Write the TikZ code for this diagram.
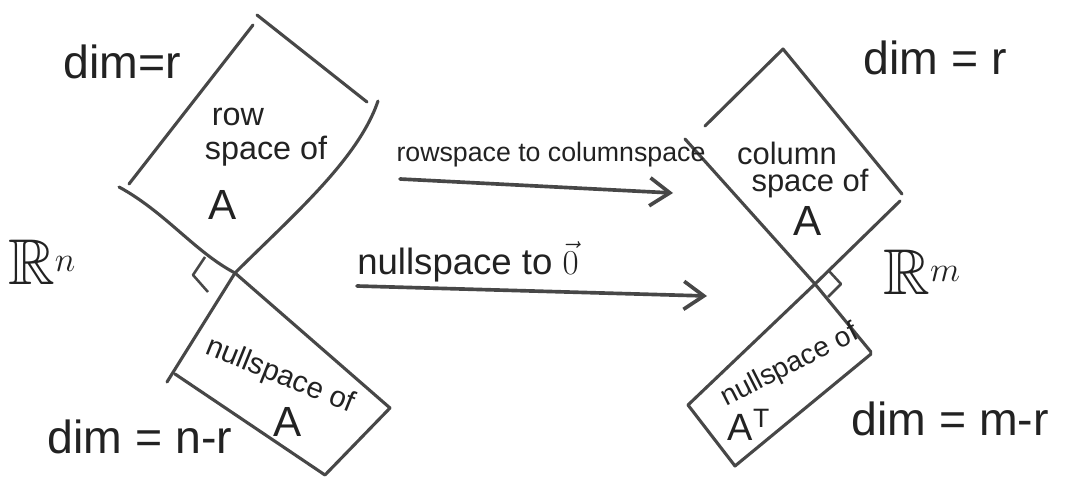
\documentclass[tikz,border=0pt]{standalone}
\usepackage{fontspec}
\setmainfont{Liberation Sans}
\usepackage{amssymb}
\usetikzlibrary{arrows.meta}
\definecolor{pengray}{HTML}{474747}
\definecolor{inkblack}{HTML}{222222}

\begin{document}
\begin{tikzpicture}[
  x=0.025cm, y=-0.025cm,
  side/.style={draw=pengray, line width=2.2pt, line cap=round, line join=round},
  rightangle/.style={draw=pengray, line width=1.8pt, line join=round},
  maparrow/.style={draw=pengray, line width=2.6pt, line cap=round,
                   -{Straight Barb[length=5mm,width=7mm]}},
  dimlabel/.style={text=inkblack, inner sep=0pt, font=\fontsize{33}{38}\selectfont},
  spacelabel/.style={text=inkblack, inner sep=0pt, font=\fontsize{23}{27}\selectfont},
  biglabel/.style={text=inkblack, inner sep=0pt, font=\fontsize{30}{34}\selectfont},
  maplabel/.style={text=inkblack, inner sep=0pt}
]
\useasboundingbox[fill=white] (0,0) rectangle (1066,479);

% R^n side: row space and nullspace of A
\coordinate (rowO) at (235,273);
\draw[side] (129,184) -- (253,25);
\draw[side] (257,15) -- (367,102);
\draw[side] (378,101) .. controls (358,160) and (290,218) .. (rowO) -- (167,382);
\draw[side] (119,187) .. controls (165,212) and (195,252) .. (rowO) -- (390,408);
\draw[side] (175,374) -- (325,475) -- (390,408);
\draw[rightangle] (205,257) -- (193,275) -- (208,292);

% R^m side: column space and left nullspace
\coordinate (colO) at (815,284);
\draw[side] (705,126) -- (783,49) -- (902,194);
\draw[side] (900,201) -- (colO) -- (688,405);
\draw[side] (685,139) -- (colO) -- (871,352);
\draw[side] (688,405) -- (735,466) -- (871,354);
\draw[rightangle] (829,271) -- (841,284) -- (828,297);

% labels
\node[dimlabel] (dimrow) at (122,62) {dim=r};
\node[spacelabel] (rowa) at (238,117) {row};
\node[spacelabel] (rowb) at (266,151) {space of};
\node[biglabel] (rowc) at (223,205) {A};
\node[text=inkblack, inner sep=0pt, font=\fontsize{46}{50}\selectfont] (rn) at (42,262) {$\mathbb{R}^{n}$};
\node[spacelabel, font=\fontsize{21}{25}\selectfont, rotate=-22] (nulla) at (280,376) {nullspace of};
\node[biglabel] (nullb) at (288,422) {A};
\node[dimlabel] (dimnull) at (140,437) {dim = n-r};

\node[dimlabel] (dimcol) at (935,58) {dim = r};
\node[spacelabel, font=\fontsize{22}{26}\selectfont] (cola) at (787,153) {column};
\node[spacelabel, font=\fontsize{22}{26}\selectfont] (colb) at (810,184) {space of};
\node[biglabel] (colc) at (808,221) {A};
\node[text=inkblack, inner sep=0pt, font=\fontsize{46}{50}\selectfont] (rm) at (922,272) {$\mathbb{R}^{m}$};
\node[spacelabel, font=\fontsize{20}{24}\selectfont, rotate=27] (lnulla) at (790,366) {nullspace of};
\node[biglabel, font=\fontsize{27}{30}\selectfont] (lnullb) at (749,425) {A\textsuperscript{T}};
\node[dimlabel] (dimlnull) at (950,419) {dim = m-r};

% the two maps
\node[maplabel, font=\fontsize{19}{23}\selectfont] (maprow) at (551,155) {rowspace to columnspace};
\node[maplabel, font=\fontsize{26}{30}\selectfont] (mapnull) at (468,262) {nullspace to $\vec{0}$};
\coordinate (rowfrom) at (400,179);
\coordinate (rowto) at (673,193);
\coordinate (nullfrom) at (357,286);
\coordinate (nullto) at (707,296);
\draw[maparrow] (rowfrom) -- (rowto);
\draw[maparrow] (nullfrom) -- (nullto);
\end{tikzpicture}
\end{document}
